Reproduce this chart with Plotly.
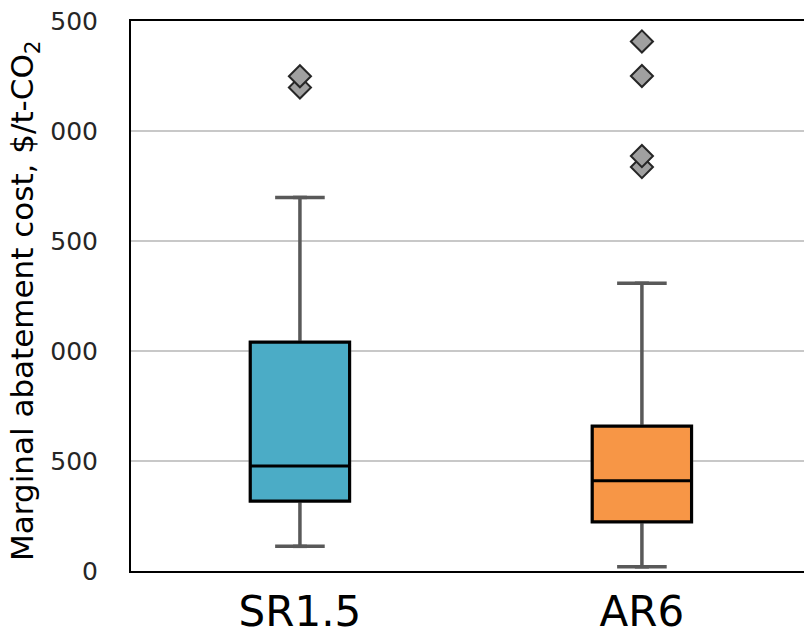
import plotly.graph_objects as go

categories = ["SR1.5", "AR6"]
q1 = [318, 224]
median = [477, 410]
q3 = [1040, 658]
lower_whisker = [112, 19]
upper_whisker = [1698, 1308]
outliers_sr15 = [2198, 2249]
outliers_ar6 = [1836, 1886, 2250, 2407]
fill_colors = ["#4BACC6", "#F79646"]

y_tickvals = [0, 500, 1000, 1500, 2000, 2500]
y_ticktext = ["0", "500", "000", "500", "000", "500"]

FONT = "DejaVu Sans"
WHISKER = "#595959"
fig = go.Figure()

# gray whiskers (underlying box)
for i, c in enumerate(categories):
    fig.add_trace(go.Box(
        x=[c], q1=[q1[i]], median=[median[i]], q3=[q3[i]],
        lowerfence=[lower_whisker[i]], upperfence=[upper_whisker[i]],
        fillcolor=fill_colors[i], line=dict(color=WHISKER, width=3.5),
        width=0.29, boxpoints=False, showlegend=False, hoverinfo="skip"))

# black-outlined boxes on top
for i, c in enumerate(categories):
    fig.add_trace(go.Box(
        x=[c], q1=[q1[i]], median=[median[i]], q3=[q3[i]],
        lowerfence=[q1[i]], upperfence=[q3[i]],
        fillcolor=fill_colors[i], line=dict(color="black", width=3),
        width=0.29, boxpoints=False, showlegend=False))

# whisker caps
fig.add_trace(go.Scatter(
    x=categories + categories, y=upper_whisker + lower_whisker, mode="markers",
    marker=dict(symbol="line-ew", size=10, color=WHISKER,
                line=dict(color=WHISKER, width=3.5)),
    showlegend=False, hoverinfo="skip"))

# outliers
for c, vals in [("SR1.5", outliers_sr15), ("AR6", outliers_ar6)]:
    fig.add_trace(go.Scatter(
        x=[c] * len(vals), y=vals, mode="markers",
        marker=dict(symbol="diamond", size=17, color="#A0A0A0",
                    line=dict(color="#262626", width=2)),
        showlegend=False))

fig.update_layout(
    width=804, height=630,
    margin=dict(l=131, r=0, t=21, b=59),
    paper_bgcolor="white", plot_bgcolor="white",
    boxmode="overlay",
    font=dict(family=FONT, color="black"),
    xaxis=dict(type="category", categoryorder="array", categoryarray=categories,
               range=[-0.494, 1.474], showline=True, linecolor="black",
               linewidth=2, mirror=True, showgrid=False, ticks="",
               automargin=False, ticklabelstandoff=3,
               tickfont=dict(size=42, family=FONT, color="black")),
    yaxis=dict(range=[0, 2500], tickvals=y_tickvals, ticktext=y_ticktext,
               showgrid=True, gridcolor="#C8C8C8", gridwidth=2,
               showline=True, linecolor="black", linewidth=2, zeroline=False,
               ticks="", ticklabelstandoff=26, automargin=False,
               tickfont=dict(size=25, family=FONT, color="#262626")),
    annotations=[dict(
        text="Marginal abatement cost, $/t-CO<sub>2</sub>",
        textangle=-90, xref="paper", yref="paper",
        x=-0.1575, y=0.491, xanchor="center", yanchor="middle",
        showarrow=False, font=dict(size=31, family=FONT, color="black"))],
)

fig.write_html("out.html", config={"displayModeBar": False})

# remove the browser's default page margin so the figure sits at the top-left
with open("out.html", "r", encoding="utf-8") as f:
    html = f.read()
html = html.replace("<head>", "<head><style>html,body{margin:0;padding:0;overflow:hidden;}</style>", 1)
with open("out.html", "w", encoding="utf-8") as f:
    f.write(html)
